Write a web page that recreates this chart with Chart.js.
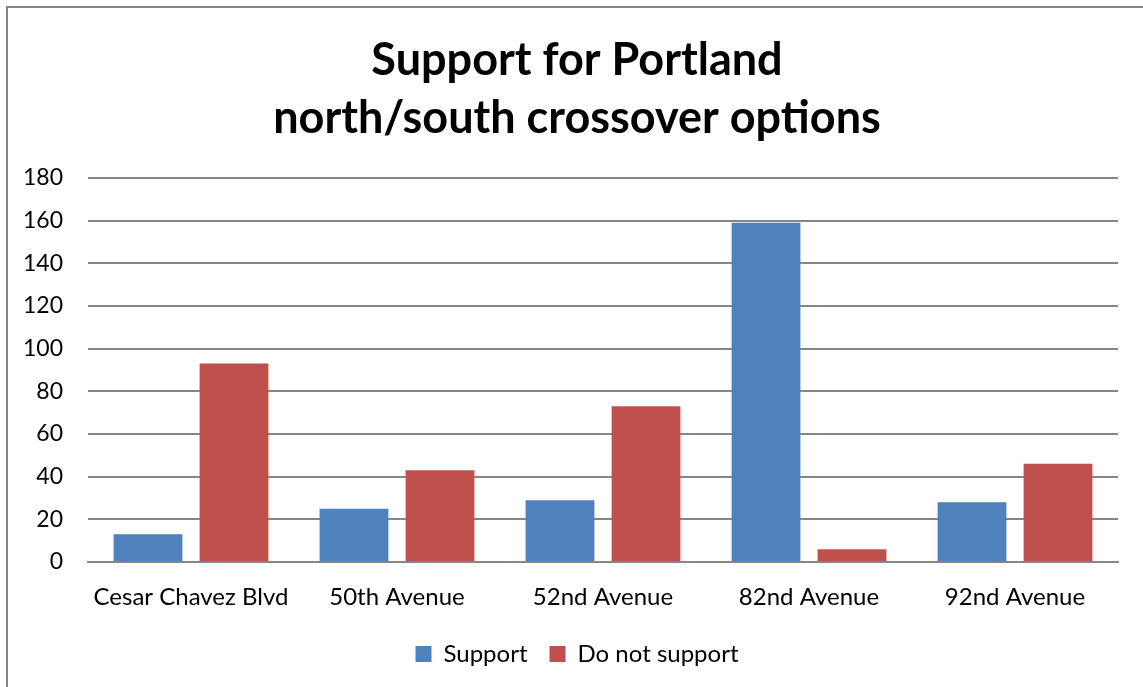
<!DOCTYPE html>
<html>
<head>
<meta charset="utf-8">
<title>Support for Portland north/south crossover options</title>
<script src="https://cdn.jsdelivr.net/npm/chart.js@4"></script>
<style>
    html, body { margin: 0; padding: 0; background: #fff; overflow: hidden; }
    .wrap { position: relative; width: 1143px; height: 687px; }
    .frame {
        position: absolute; left: 6px; top: 6px; width: 1160px; height: 700px;
        border-left: 2px solid #868686; border-top: 2px solid #868686;
        pointer-events: none;
    }
</style>
</head>
<body>
<div class="wrap">
    <canvas id="chartCrossover" width="1143" height="687"></canvas>
    <div class="frame"></div>
</div>
<script>
// ====== DATA ======
const categories = ['Cesar Chavez Blvd', '50th Avenue', '52nd Avenue', '82nd Avenue', '92nd Avenue'];
const supportValues = [13, 25, 29, 159, 28];
const notSupportValues = [93, 43, 73, 6, 46];
const yTicks = [0, 20, 40, 60, 80, 100, 120, 140, 160, 180];

// ====== COLORS ======
const COLORS = {
    azul:     '#4F81BD',
    vermelho: '#C0504D',
    grade:    '#868686',
    texto:    '#000000',
};

const FONT = 'Lato, "Open Sans", sans-serif';

Chart.defaults.font.family = FONT;
Chart.defaults.color = COLORS.texto;

// título e legenda centrados na moldura, não só na área do gráfico
const centerInFrame = {
    id: 'centerInFrame',
    afterLayout(chart) {
        if (chart.titleBlock) chart.titleBlock.left += 36;
        if (chart.legend) chart.legend.left += 36;
    }
};

new Chart(document.getElementById('chartCrossover'), {
    type: 'bar',
    data: {
        labels: categories,
        datasets: [
            {
                label: 'Support',
                data: supportValues,
                backgroundColor: COLORS.azul,
                categoryPercentage: 0.835,
                barPercentage: 0.8,
            },
            {
                label: 'Do not support',
                data: notSupportValues,
                backgroundColor: COLORS.vermelho,
                categoryPercentage: 0.835,
                barPercentage: 0.8,
            }
        ]
    },
    plugins: [centerInFrame],
    options: {
        responsive: false,
        animation: false,
        layout: { padding: { top: 31, right: 25, bottom: 11, left: 0 } },
        plugins: {
            title: {
                display: true,
                text: ['Support for Portland', 'north/south crossover options'],
                font: { size: 45, weight: 'bold', family: FONT, lineHeight: 1.3 },
                color: COLORS.texto,
                padding: { top: 0, bottom: 30 }
            },
            legend: {
                position: 'bottom',
                labels: {
                    font: { size: 24, family: FONT },
                    boxWidth: 16,
                    boxHeight: 16,
                    padding: 22,
                    color: COLORS.texto
                }
            },
            tooltip: { enabled: false }
        },
        scales: {
            x: {
                grid: { display: false, drawTicks: false },
                border: { color: COLORS.grade, width: 2 },
                ticks: { font: { size: 24, family: FONT }, padding: 21, color: COLORS.texto },
                afterFit: scale => { scale.height = 58; }
            },
            y: {
                min: 0,
                max: 180,
                afterBuildTicks: scale => { scale.ticks = yTicks.map(v => ({ value: v })); },
                grid: { color: COLORS.grade, lineWidth: 2, drawTicks: false },
                border: { display: false },
                ticks: { font: { size: 23, family: FONT }, padding: 25, color: COLORS.texto },
                afterFit: scale => { scale.width = 88; }
            }
        }
    }
});
</script>
</body>
</html>
